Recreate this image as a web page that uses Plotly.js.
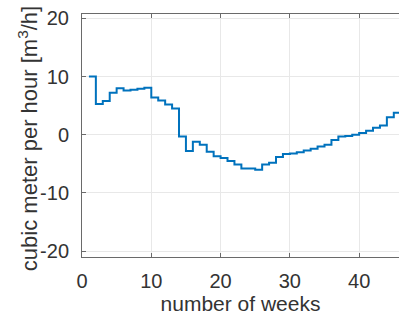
<!DOCTYPE html>
<html>
<head>
<meta charset="utf-8">
<script src="https://cdn.plot.ly/plotly-3.0.1.min.js"></script>
<style>html,body{margin:0;padding:0;overflow:hidden;background:#fff}</style>
</head>
<body>
<div id="chart" style="width:399px;height:317px"></div>
<script>
const weeks = [1,2,3,4,5,6,7,8,9,10,11,12,13,14,15,16,17,18,19,20,21,22,23,24,25,26,27,28,29,30,31,32,33,34,35,36,37,38,39,40,41,42,43,44,45,46];
const flow = [10.0,5.3,5.8,7.2,8.0,7.6,7.75,7.9,8.1,6.4,5.9,5.2,4.5,-0.3,-2.8,-1.2,-1.7,-2.9,-3.7,-4.0,-4.5,-5.1,-5.8,-5.8,-6.0,-5.1,-4.8,-3.8,-3.3,-3.2,-3.0,-2.7,-2.4,-2.0,-1.7,-0.9,-0.3,-0.2,0.0,0.3,0.7,1.2,1.6,3.0,3.8,3.8];
const xTicks = [0,10,20,30,40];
const yTicks = [-20,-10,0,10,20];
const xTitle = 'number of weeks';
const yTitle = 'cubic meter per hour [m<sup>3</sup>/h]';

const textColor = '#333333';
const lineColor = '#6a6a6a';
const fontFam = 'Liberation Sans, Arial, Helvetica, sans-serif';

Plotly.newPlot('chart', [{
  x: weeks, y: flow, type: 'scatter', mode: 'lines',
  line: {shape: 'hv', color: '#0072BD', width: 2}
}], {
  width: 399, height: 317,
  margin: {l: 82, r: 0, t: 14, b: 60},
  paper_bgcolor: '#fff', plot_bgcolor: '#fff',
  showlegend: false,
  font: {family: fontFam, size: 20, color: textColor},
  xaxis: {
    range: [0, 45.75], tickvals: xTicks, ticktext: xTicks.map(String),
    ticks: 'inside', ticklen: 4, tickcolor: lineColor,
    showline: true, linecolor: lineColor, linewidth: 1, mirror: 'ticks',
    showgrid: true, gridcolor: '#e8e8e8', zeroline: false,
    ticklabelstandoff: 6,
    title: {text: xTitle, font: {size: 21, color: textColor}, standoff: 4}
  },
  yaxis: {
    range: [-21, 20.75], tickvals: yTicks, ticktext: yTicks.map(String),
    ticks: 'inside', ticklen: 4, tickcolor: lineColor,
    showline: true, linecolor: lineColor, linewidth: 1, mirror: false,
    showgrid: true, gridcolor: '#e8e8e8', zeroline: false,
    ticklabelstandoff: 8
  },
  annotations: [{
    text: yTitle, textangle: -90, showarrow: false,
    xref: 'paper', yref: 'paper', x: 0, y: 0.485, xshift: -54,
    xanchor: 'center', yanchor: 'middle',
    font: {size: 22, color: textColor}
  }]
}, {staticPlot: true, displayModeBar: false});
</script>
</body>
</html>
